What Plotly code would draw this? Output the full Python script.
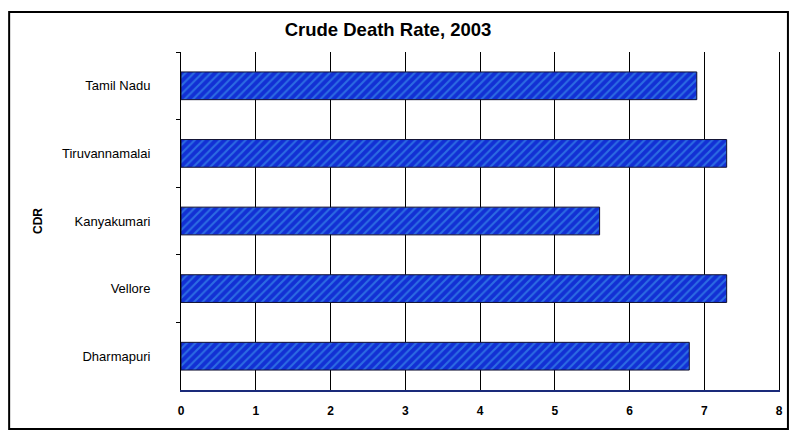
import plotly.graph_objects as go

categories = ["Tamil Nadu", "Tiruvannamalai", "Kanyakumari", "Vellore", "Dharmapuri"]
cdr_values = [6.9, 7.3, 5.6, 7.3, 6.8]
x_ticks = [0, 1, 2, 3, 4, 5, 6, 7, 8]

FONT = "Liberation Sans, Arial, sans-serif"

fig = go.Figure(go.Bar(
    y=categories,
    x=cdr_values,
    orientation="h",
    width=0.41,
    marker=dict(
        color="#1230d4",
        line=dict(color="#101030", width=1),
        pattern=dict(shape="/", fgcolor="#45a8f0", bgcolor="#1230d4", size=6, solidity=0.35),
    ),
    hoverinfo="x+y",
))

L, R, T, B = 181, 10, 52, 42
W, H = 793, 432
pw, ph = W - L - R, H - T - B

def px(xp):
    return (xp - L) / pw

def py(yp):
    return (H - B - yp) / ph

fig.update_layout(
    width=W, height=H,
    margin=dict(l=L, r=R, t=T, b=B, pad=0),
    paper_bgcolor="white", plot_bgcolor="white",
    showlegend=False,
    title=dict(text="<b>Crude Death Rate, 2003</b>", x=388 / W, xref="container", xanchor="center",
               y=1 - 30 / H, yref="container", yanchor="middle",
               font=dict(family=FONT, size=18.5, color="black")),
    font=dict(family=FONT, color="black"),
    xaxis=dict(
        range=[0, 8], tickvals=x_ticks, ticktext=[str(v) for v in x_ticks],
        showgrid=True, gridcolor="black", gridwidth=1,
        showline=True, linecolor="#1a2a7a", linewidth=2,
        zeroline=False, ticks="", ticklabelstandoff=9,
        tickfont=dict(family=FONT, size=12, color="black", weight="bold"),
        fixedrange=True,
    ),
    yaxis=dict(
        categoryorder="array", categoryarray=categories, autorange="reversed",
        showline=True, linecolor="black", linewidth=1, mirror=True,
        ticks="outside", ticklen=4, tickcolor="black", tickson="boundaries",
        showgrid=False, ticklabelstandoff=27,
        tickfont=dict(family=FONT, size=13, color="black"),
        title=dict(text="<b>CDR</b>", standoff=16, font=dict(family=FONT, size=12, color="black")),
        fixedrange=True,
    ),
    shapes=[
        dict(type="rect", xref="paper", yref="paper",
             x0=px(8), x1=px(792), y0=py(429), y1=py(12),
             line=dict(color="black", width=2), fillcolor="rgba(0,0,0,0)", layer="below"),
    ],
)

fig.write_html("out.html", config={"displayModeBar": False},
               post_script="document.body.style.margin='0';document.body.style.overflow='hidden';")
